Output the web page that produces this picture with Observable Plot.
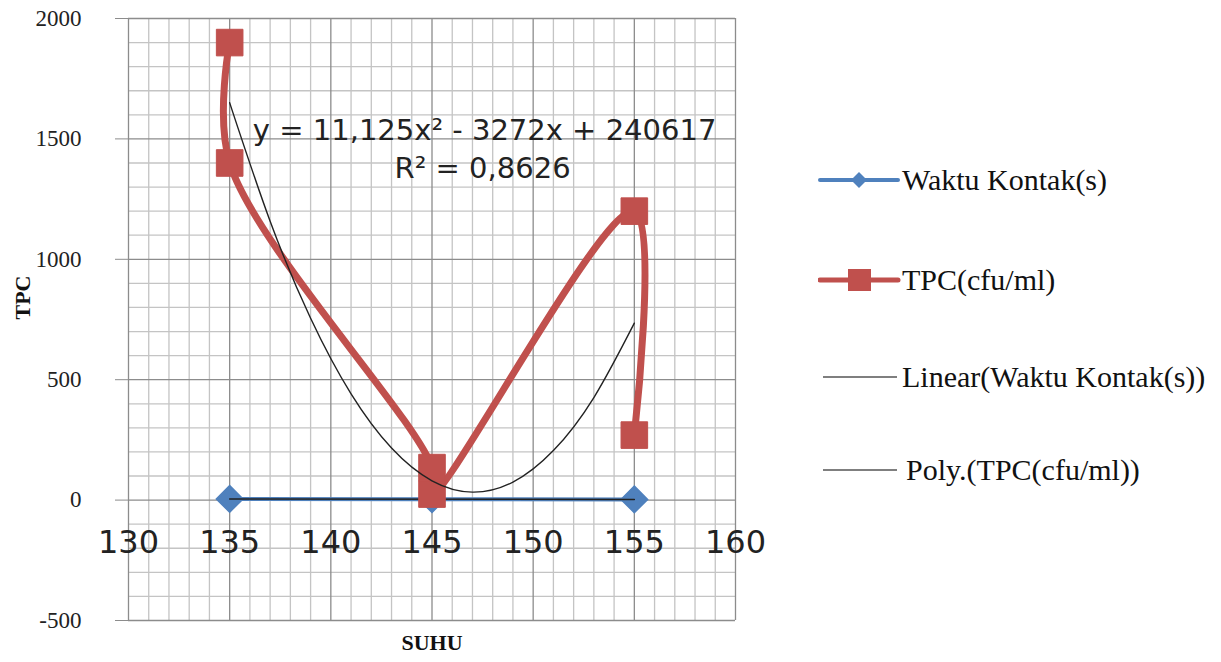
<!DOCTYPE html>
<html>
<head>
<meta charset="utf-8">
<script src="https://cdn.jsdelivr.net/npm/d3@7"></script>
<script src="https://cdn.jsdelivr.net/npm/@observablehq/plot@0.6"></script>
<style>
  html, body { margin: 0; padding: 0; background: #fff; }
  #wrap { position: relative; width: 1221px; height: 662px; overflow: hidden; }
  #chart { position: absolute; left: 0; top: 0; }
  #legend { position: absolute; left: 818px; top: 0; font-family: "Liberation Serif", "DejaVu Serif", serif; font-size: 30px; color: #111; }
  .item { position: absolute; left: 0; display: flex; align-items: center; white-space: nowrap; }
  .item svg { display: block; }
</style>
</head>
<body>
<div id="wrap">
  <div id="chart"></div>
  <div id="legend"></div>
</div>
<script>
// ---- data ----
const suhu = [135, 145, 155];
const waktuKontak = [5, 4, 3];
const tpcX = [135, 135, 145, 145, 155, 155];
const tpcY = [1900, 1400, 135, 25, 1200, 270];
const polyX = [135, 137, 139, 141, 143, 145, 147, 149, 151, 153, 155];
const polyY = [1650, 1158, 755, 441, 216, 80, 33, 75, 206, 426, 735];
const xTickLabels = [130, 135, 140, 145, 150, 155, 160];
const yTickLabels = [-500, 0, 500, 1000, 1500, 2000];
const equationText = "y = 11,125x² - 3272x + 240617";
const r2Text = "R² = 0,8626";
const seriesNames = ["Waktu Kontak(s)", "TPC(cfu/ml)", "Linear(Waktu Kontak(s))", "Poly.(TPC(cfu/ml))"];

const waktuData = suhu.map((x, i) => ({x, y: waktuKontak[i]}));
const tpcData = tpcX.map((x, i) => ({x, y: tpcY[i]}));
const polyData = polyX.map((x, i) => ({x, y: polyY[i]}));

const blue = "#4F81BD", red = "#C0504D";
const minorX = d3.range(130, 161, 1).filter(v => v % 5 !== 0);
const majorX = d3.range(130, 161, 5);
const minorY = d3.range(-500, 2001, 100).filter(v => v % 500 !== 0);
const majorY = d3.range(-500, 2001, 500);

const chart = Plot.plot({
  width: 800,
  height: 662,
  marginLeft: 128,
  marginRight: 65,
  marginTop: 18,
  marginBottom: 42,
  x: {domain: [130, 160], axis: null},
  y: {domain: [-500, 2000], axis: null},
  style: {background: "transparent"},
  marks: [
    Plot.gridX(minorX, {stroke: "#c4c4c4", strokeOpacity: 1, strokeWidth: 1.3}),
    Plot.gridY(minorY, {stroke: "#c4c4c4", strokeOpacity: 1, strokeWidth: 1.3}),
    Plot.gridX(majorX, {stroke: "#8c8c8c", strokeOpacity: 1, strokeWidth: 1.3}),
    Plot.gridY(majorY, {stroke: "#8c8c8c", strokeOpacity: 1, strokeWidth: 1.3}),
    Plot.axisY(yTickLabels, {tickSize: 13, tickPadding: 34, stroke: "#8c8c8c", fill: "#222",
      tickFormat: d => String(d), fontFamily: "Liberation Serif, serif", fontSize: 23, label: null}),
    Plot.text(["TPC"], {frameAnchor: "left", dx: -106, rotate: -90, fontFamily: "Liberation Serif, serif",
      fontWeight: "bold", fontSize: 22, fill: "#111"}),
    Plot.text(["SUHU"], {frameAnchor: "bottom", dy: 29, fontFamily: "Liberation Serif, serif",
      fontWeight: "bold", fontSize: 22, fill: "#111"}),
    Plot.text(xTickLabels, {x: d => d, y: 0, dy: 43, text: d => String(d),
      fontFamily: "DejaVu Sans, sans-serif", fontSize: 32, fill: "#222"}),
    // Waktu Kontak series
    Plot.line(waktuData, {x: "x", y: "y", stroke: blue, strokeWidth: 4}),
    Plot.dot(waktuData, {x: "x", y: "y", symbol: "diamond2", r: 12, fill: blue, stroke: blue}),
    Plot.linearRegressionY(waktuData, {x: "x", y: "y", stroke: "#222", strokeWidth: 1.5, ci: 0}),
    // TPC series
    Plot.line(tpcData, {x: "x", y: "y", stroke: red, strokeWidth: 7, curve: "catmull-rom"}),
    Plot.dot(tpcData, {x: "x", y: "y", symbol: "square", r: 15, fill: red, stroke: red, strokeWidth: 1}),
    // Poly trend
    Plot.line(polyData, {x: "x", y: "y", stroke: "#222", strokeWidth: 1.4, curve: "natural"}),
    // equation labels
    Plot.text([equationText], {x: 147.6, y: 1533, fontFamily: "DejaVu Sans, sans-serif", fontSize: 29, fill: "#222"}),
    Plot.text([r2Text], {x: 147.5, y: 1375, fontFamily: "DejaVu Sans, sans-serif", fontSize: 29, fill: "#222"})
  ]
});
document.getElementById("chart").appendChild(chart);

// ---- legend ----
const legendTops = [180, 280, 377, 470];
const swatches = [
  `<svg width="84" height="30"><line x1="2" y1="15" x2="80" y2="15" stroke="${blue}" stroke-width="4" stroke-linecap="round"/><path d="M41 7 L49 15 L41 23 L33 15 Z" fill="${blue}"/></svg>`,
  `<svg width="84" height="30"><line x1="2" y1="15" x2="80" y2="15" stroke="${red}" stroke-width="5" stroke-linecap="round"/><rect x="30" y="4" width="23" height="22" fill="${red}"/></svg>`,
  `<svg width="84" height="30"><line x1="5" y1="15" x2="79" y2="15" stroke="#555" stroke-width="1.6"/></svg>`,
  `<svg width="88" height="30"><line x1="5" y1="15" x2="79" y2="15" stroke="#555" stroke-width="1.6"/></svg>`
];
const legend = document.getElementById("legend");
seriesNames.forEach((name, i) => {
  const div = document.createElement("div");
  div.className = "item";
  div.style.top = (legendTops[i] - 17) + "px";
  div.innerHTML = swatches[i] + `<span>${name}</span>`;
  legend.appendChild(div);
});
</script>
</body>
</html>
